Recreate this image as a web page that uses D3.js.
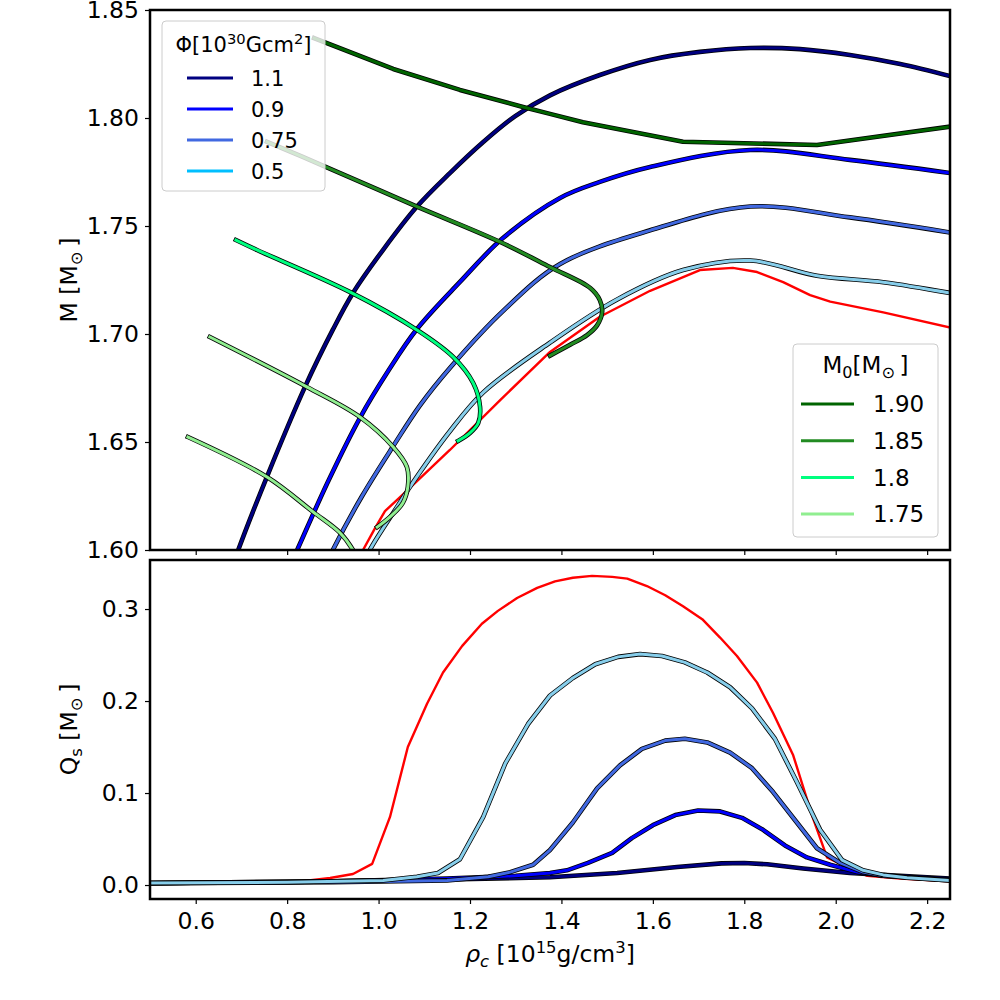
<!DOCTYPE html>
<html>
<head>
<meta charset="utf-8">
<script src="https://cdn.jsdelivr.net/npm/d3@7"></script>
<style>
body { margin: 0; background: #fff; }
text { font-family: "DejaVu Sans", sans-serif; fill: #000; }
</style>
</head>
<body>
<div id="chart"></div>
<script>
// ---- top panel: M vs rho_c, constant magnetic flux ----
const rhoPhi11 = [0.680, 0.693, 0.756, 0.839, 0.900, 0.944, 1.010, 1.084, 1.156, 1.229, 1.299, 1.375, 1.484, 1.594, 1.703, 1.813, 1.922, 2.031, 2.141, 2.250];
const mPhi11   = [1.592, 1.600, 1.634, 1.6755, 1.702, 1.719, 1.739, 1.759, 1.7745, 1.7889, 1.8009, 1.8105, 1.8199, 1.8269, 1.8306, 1.8324, 1.8319, 1.8292, 1.825, 1.8194];

const rhoPhi09 = [0.805, 0.822, 0.889, 0.959, 1.021, 1.084, 1.178, 1.272, 1.397, 1.484, 1.594, 1.813, 2.031, 2.250];
const mPhi09   = [1.592, 1.600, 1.6315, 1.6611, 1.6829, 1.7023, 1.7241, 1.7444, 1.763, 1.7704, 1.7773, 1.7852, 1.7806, 1.7745];

const rhoPhi075 = [0.885, 0.900, 0.964, 1.032, 1.091, 1.156, 1.272, 1.397, 1.594, 1.813, 2.031, 2.250];
const mPhi075   = [1.593, 1.600, 1.625, 1.6481, 1.6671, 1.6843, 1.7106, 1.7324, 1.748, 1.759, 1.754, 1.747];

const rhoPhi05 = [0.965, 0.981, 1.036, 1.084, 1.156, 1.229, 1.375, 1.522, 1.666, 1.813, 1.959, 2.104, 2.250];
const mPhi05   = [1.592, 1.600, 1.6185, 1.634, 1.655, 1.673, 1.696, 1.716, 1.7296, 1.734, 1.727, 1.724, 1.719];

// zero-flux sequence (red)
const rhoPhi0 = [0.966, 0.992, 1.014, 1.047, 1.091, 1.156, 1.266, 1.375, 1.484, 1.594, 1.703, 1.775, 1.828, 1.885, 1.944, 1.988, 2.104, 2.250];
const mPhi0   = [1.600, 1.610, 1.618, 1.6245, 1.6333, 1.6463, 1.6694, 1.6917, 1.708, 1.720, 1.7296, 1.7306, 1.7287, 1.724, 1.718, 1.715, 1.710, 1.703];

// constant baryon mass sequences
const rhoM190 = [0.859, 1.032, 1.178, 1.316, 1.375, 1.447, 1.666, 1.959, 2.250];
const mM190   = [1.837, 1.8227, 1.813, 1.8051, 1.8019, 1.798, 1.789, 1.7875, 1.796];

const rhoM185 = [0.756, 0.878, 1.084, 1.266, 1.375, 1.463, 1.484, 1.489, 1.478, 1.456, 1.419, 1.375];
const mM185   = [1.789, 1.778, 1.759, 1.7426, 1.731, 1.7213, 1.7157, 1.710, 1.704, 1.6995, 1.695, 1.690];

const rhoM180 = [0.688, 0.734, 0.938, 1.084, 1.163, 1.207, 1.222, 1.218, 1.200, 1.174];
const mM180   = [1.7435, 1.7389, 1.7194, 1.7019, 1.6894, 1.6773, 1.6662, 1.6588, 1.6542, 1.6505];

const rhoM175 = [0.631, 0.843, 0.959, 1.032, 1.062, 1.064, 1.053, 1.025, 0.997];
const mM175   = [1.6986, 1.6755, 1.6616, 1.6477, 1.6384, 1.6292, 1.6218, 1.6153, 1.6106];

const rhoM170 = [0.583, 0.756, 0.857, 0.916, 0.944, 0.962];
const mM170   = [1.6523, 1.6338, 1.6176, 1.6079, 1.600, 1.592];

// ---- bottom panel: Q_s vs rho_c ----
const rhoQ0 = [0.48, 0.70, 0.828, 0.894, 0.944, 0.986, 1.025, 1.064, 1.106, 1.141, 1.183, 1.226, 1.261, 1.303, 1.347, 1.386, 1.425, 1.467, 1.511, 1.544, 1.587, 1.627, 1.666, 1.708, 1.747, 1.784, 1.828, 1.863, 1.907, 1.950, 1.981, 2.031, 2.069, 2.141, 2.250];
const qQ0   = [0.002, 0.003, 0.004, 0.0076, 0.012, 0.023, 0.074, 0.150, 0.197, 0.231, 0.260, 0.284, 0.298, 0.312, 0.323, 0.330, 0.334, 0.336, 0.335, 0.333, 0.325, 0.315, 0.303, 0.289, 0.269, 0.249, 0.220, 0.187, 0.141, 0.073, 0.030, 0.018, 0.010, 0.007, 0.004];

const rhoQ05 = [0.48, 0.80, 1.010, 1.084, 1.130, 1.178, 1.229, 1.277, 1.327, 1.375, 1.425, 1.474, 1.524, 1.572, 1.620, 1.670, 1.719, 1.769, 1.817, 1.867, 1.915, 1.966, 2.014, 2.060, 2.104, 2.156, 2.250];
const qQ05   = [0.002, 0.003, 0.005, 0.009, 0.013, 0.028, 0.074, 0.132, 0.175, 0.206, 0.225, 0.240, 0.248, 0.251, 0.249, 0.242, 0.231, 0.215, 0.192, 0.159, 0.112, 0.060, 0.027, 0.016, 0.011, 0.008, 0.005];

const rhoQ075 = [0.48, 0.90, 1.15, 1.24, 1.288, 1.338, 1.375, 1.425, 1.478, 1.528, 1.576, 1.627, 1.670, 1.719, 1.769, 1.817, 1.863, 1.915, 1.959, 2.010, 2.060, 2.104, 2.250];
const qQ075   = [0.002, 0.003, 0.005, 0.009, 0.014, 0.022, 0.038, 0.068, 0.105, 0.130, 0.148, 0.157, 0.159, 0.155, 0.144, 0.127, 0.101, 0.068, 0.040, 0.024, 0.014, 0.010, 0.005];

const rhoQ09 = [0.48, 0.90, 1.15, 1.30, 1.375, 1.412, 1.458, 1.511, 1.554, 1.600, 1.649, 1.699, 1.747, 1.795, 1.841, 1.889, 1.937, 1.988, 2.047, 2.104, 2.250];
const qQ09   = [0.002, 0.004, 0.007, 0.010, 0.013, 0.016, 0.024, 0.035, 0.051, 0.065, 0.076, 0.081, 0.080, 0.073, 0.060, 0.043, 0.030, 0.022, 0.014, 0.010, 0.006];

const rhoQ11 = [0.48, 0.90, 1.15, 1.375, 1.522, 1.653, 1.75, 1.80, 1.85, 1.929, 2.031, 2.250];
const qQ11   = [0.002, 0.004, 0.006, 0.0085, 0.013, 0.0195, 0.0235, 0.024, 0.0225, 0.018, 0.013, 0.007];

// ---- labels / ticks ----
const phiLabels = ['1.1', '0.9', '0.75', '0.5'];
const phiColors = ['navy', 'blue', 'royalblue', 'deepskyblue'];
const m0Labels = ['1.90', '1.85', '1.8', '1.75'];
const m0Colors = ['darkgreen', 'forestgreen', 'springgreen', 'lightgreen'];
const xTicks = [0.6, 0.8, 1.0, 1.2, 1.4, 1.6, 1.8, 2.0, 2.2];
const mTicks = [1.60, 1.65, 1.70, 1.75, 1.80, 1.85];
const qTicks = [0.0, 0.1, 0.2, 0.3];

const width = 1000, height = 1000;
const fs = 23.5; // tick + axis label size

const svg = d3.select('#chart').append('svg')
    .attr('width', width)
    .attr('height', height);

const pTop = {left: 150, right: 950, top: 10, bottom: 550};
const pBot = {left: 150, right: 950, top: 560, bottom: 899};

const x = d3.scaleLinear().domain([0.5, 2.25]).range([pTop.left, pTop.right]);
const yM = d3.scaleLinear().domain([1.60, 1.85]).range([pTop.bottom, pTop.top]);
const yQ = d3.scaleLinear().domain([-0.0152, 0.3533]).range([pBot.bottom, pBot.top]);

const defs = svg.append('defs');
defs.append('clipPath').attr('id', 'clipTop').append('rect')
    .attr('x', pTop.left).attr('y', pTop.top)
    .attr('width', pTop.right - pTop.left).attr('height', pTop.bottom - pTop.top);
defs.append('clipPath').attr('id', 'clipBot').append('rect')
    .attr('x', pBot.left).attr('y', pBot.top)
    .attr('width', pBot.right - pBot.left).attr('height', pBot.bottom - pBot.top);

// curves, drawn in plotting order
const topCurves = [
    {rho: rhoPhi0, val: mPhi0, color: 'red', outline: false, smooth: false},
    {rho: rhoPhi11, val: mPhi11, color: 'navy', outline: true, smooth: true},
    {rho: rhoPhi09, val: mPhi09, color: 'blue', outline: true, smooth: true},
    {rho: rhoPhi075, val: mPhi075, color: 'royalblue', outline: true, smooth: true},
    {rho: rhoPhi05, val: mPhi05, color: 'skyblue', outline: true, smooth: true},
    {rho: rhoM190, val: mM190, color: 'darkgreen', outline: true, smooth: false},
    {rho: rhoM185, val: mM185, color: 'forestgreen', outline: true, smooth: true},
    {rho: rhoM180, val: mM180, color: 'springgreen', outline: true, smooth: true},
    {rho: rhoM175, val: mM175, color: 'lightgreen', outline: true, smooth: true},
    {rho: rhoM170, val: mM170, color: 'lightgreen', outline: true, smooth: true}
];

const botCurves = [
    {rho: rhoQ0, val: qQ0, color: 'red', outline: false},
    {rho: rhoQ11, val: qQ11, color: 'navy', outline: true},
    {rho: rhoQ09, val: qQ09, color: 'blue', outline: true},
    {rho: rhoQ075, val: qQ075, color: 'royalblue', outline: true},
    {rho: rhoQ05, val: qQ05, color: 'skyblue', outline: true}
];

function drawCurves(g, curves, yScale) {
    curves.forEach(c => {
        const line = d3.line()
            .x(d => x(d[0]))
            .y(d => yScale(d[1]))
            .curve(c.smooth ? d3.curveCatmullRom.alpha(0.5) : d3.curveLinear);
        const pts = d3.zip(c.rho, c.val);
        if (c.outline) {
            g.append('path')
                .attr('d', line(pts))
                .attr('fill', 'none')
                .attr('stroke', 'black')
                .attr('stroke-width', 4.6)
                .attr('stroke-linejoin', 'round')
                .attr('stroke-linecap', 'square');
        }
        g.append('path')
            .attr('d', line(pts))
            .attr('fill', 'none')
            .attr('stroke', c.color)
            .attr('stroke-width', c.outline ? 3 : 2.4)
            .attr('stroke-linejoin', 'round')
            .attr('stroke-linecap', 'square');
    });
}

drawCurves(svg.append('g').attr('clip-path', 'url(#clipTop)'), topCurves, yM);
drawCurves(svg.append('g').attr('clip-path', 'url(#clipBot)'), botCurves, yQ);

// mixed text with sub/superscripts
function richText(t, parts, size) {
    let shift = 0;
    parts.forEach(p => {
        const target = p.mode === 'sup' ? -0.38 * size : p.mode === 'sub' ? 0.22 * size : 0;
        t.append('tspan')
            .text(p.t)
            .attr('dy', target - shift)
            .attr('font-size', p.mode ? size * 0.7 : size)
            .attr('font-style', p.it ? 'italic' : null);
        shift = target;
    });
}

// axes
function yAxis(g, scale, ticks, fmt) {
    g.attr('transform', `translate(${pTop.left}, 0)`)
        .call(d3.axisLeft(scale).tickValues(ticks).tickFormat(d3.format(fmt)).tickSize(5).tickPadding(6))
        .call(g => g.select('.domain').remove());
    g.selectAll('.tick line').attr('stroke', '#000').attr('stroke-width', 1.2);
    g.selectAll('.tick text').attr('font-size', fs).attr('font-family', 'DejaVu Sans').attr('fill', '#000');
}

svg.append('g').call(yAxis, yM, mTicks, '.2f');
svg.append('g').call(yAxis, yQ, qTicks, '.1f');

const xTop = svg.append('g')
    .attr('transform', `translate(0, ${pTop.bottom})`)
    .call(d3.axisBottom(x).tickValues(xTicks).tickSize(5).tickFormat(''))
    .call(g => g.select('.domain').remove());
xTop.selectAll('.tick line').attr('stroke', '#000').attr('stroke-width', 1.2);

const xBot = svg.append('g')
    .attr('transform', `translate(0, ${pBot.bottom})`)
    .call(d3.axisBottom(x).tickValues(xTicks).tickFormat(d3.format('.1f')).tickSize(5).tickPadding(8))
    .call(g => g.select('.domain').remove());
xBot.selectAll('.tick line').attr('stroke', '#000').attr('stroke-width', 1.2);
xBot.selectAll('.tick text').attr('font-size', fs).attr('font-family', 'DejaVu Sans').attr('fill', '#000');

// frames
[pTop, pBot].forEach(p => {
    svg.append('rect')
        .attr('x', p.left).attr('y', p.top)
        .attr('width', p.right - p.left).attr('height', p.bottom - p.top)
        .attr('fill', 'none').attr('stroke', '#000').attr('stroke-width', 2.5);
});

// axis labels
const yl1 = svg.append('text')
    .attr('transform', `translate(77, ${(pTop.top + pTop.bottom) / 2}) rotate(-90)`)
    .attr('text-anchor', 'middle');
richText(yl1, [{t: 'M [M'}, {t: '\u2299', mode: 'sub'}, {t: '\u2009]'}], fs);

const yl2 = svg.append('text')
    .attr('transform', `translate(77, ${(pBot.top + pBot.bottom) / 2}) rotate(-90)`)
    .attr('text-anchor', 'middle');
richText(yl2, [{t: 'Q'}, {t: 's', mode: 'sub'}, {t: ' [M'}, {t: '\u2299', mode: 'sub'}, {t: '\u2009]'}], fs);

const xl = svg.append('text')
    .attr('x', (pBot.left + pBot.right) / 2)
    .attr('y', 962)
    .attr('text-anchor', 'middle');
richText(xl, [{t: '\u03c1', it: true}, {t: 'c', mode: 'sub', it: true}, {t: ' [10'}, {t: '15', mode: 'sup'}, {t: 'g/cm'}, {t: '3', mode: 'sup'}, {t: ']'}], fs);

// legends
function legend(box, title, labels, colors, opts) {
    const g = svg.append('g');
    g.append('rect')
        .attr('x', box.x).attr('y', box.y)
        .attr('width', box.w).attr('height', box.h)
        .attr('rx', 4)
        .attr('fill', 'white').attr('fill-opacity', 0.8)
        .attr('stroke', '#cccccc').attr('stroke-width', 1);
    const tt = g.append('text')
        .attr('x', box.x + box.w / 2)
        .attr('y', opts.titleY)
        .attr('text-anchor', 'middle');
    richText(tt, title, opts.titleSize);
    labels.forEach((lab, i) => {
        const yy = opts.firstY + i * opts.step;
        g.append('line')
            .attr('x1', opts.lineX[0]).attr('x2', opts.lineX[1])
            .attr('y1', yy).attr('y2', yy)
            .attr('stroke', colors[i]).attr('stroke-width', 3);
        g.append('text')
            .attr('x', opts.textX).attr('y', yy + opts.fontSize * 0.36)
            .attr('font-size', opts.fontSize)
            .text(lab);
    });
}

legend({x: 162, y: 21, w: 163, h: 170},
    [{t: '\u03a6[10'}, {t: '30', mode: 'sup'}, {t: 'Gcm'}, {t: '2', mode: 'sup'}, {t: ']'}],
    phiLabels, phiColors,
    {titleY: 52, titleSize: 21, firstY: 78, step: 31, lineX: [187, 233], textX: 251, fontSize: 21});

legend({x: 793, y: 344, w: 145, h: 193},
    [{t: 'M'}, {t: '0', mode: 'sub'}, {t: '[M'}, {t: '\u2299', mode: 'sub'}, {t: '\u2009]'}],
    m0Labels, m0Colors,
    {titleY: 373, titleSize: 23, firstY: 404, step: 36.7, lineX: [801, 854], textX: 873, fontSize: 23});
</script>
</body>
</html>
